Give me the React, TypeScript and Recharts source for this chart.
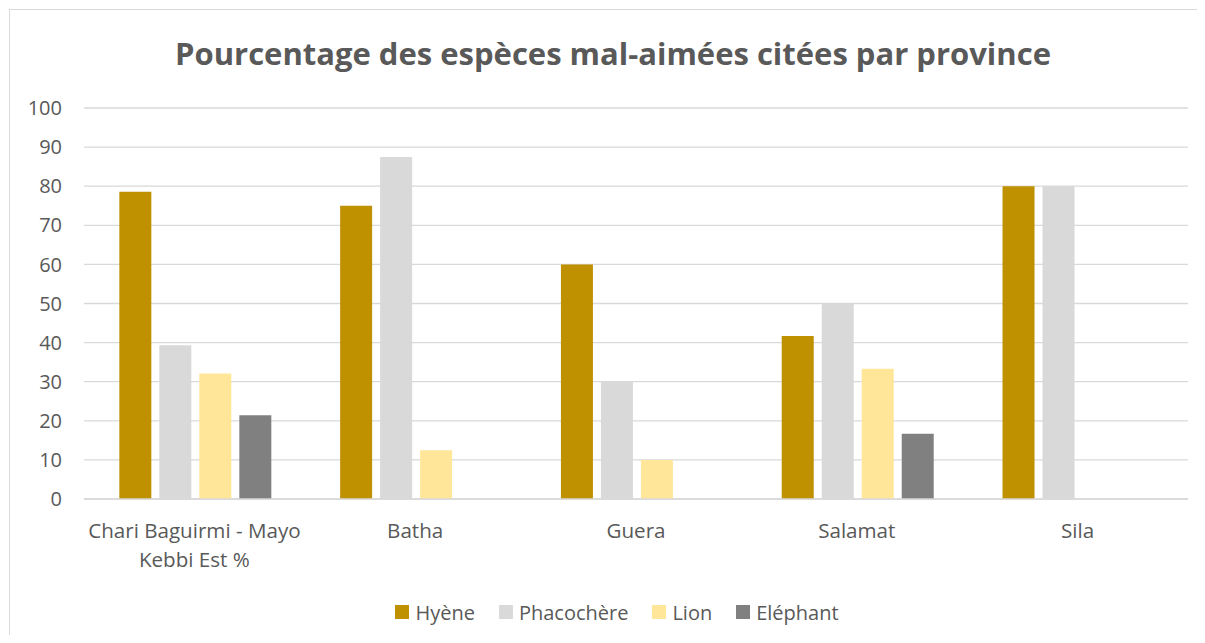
import { BarChart, Bar, XAxis, YAxis, CartesianGrid, Legend } from 'recharts'

const provinces = ['Chari Baguirmi - Mayo Kebbi Est %', 'Batha', 'Guera', 'Salamat', 'Sila']
const hyene = [78.6, 75, 60, 41.7, 80]
const phacochere = [39.3, 87.5, 30, 50, 80]
const lion = [32.1, 12.5, 10, 33.3, 0]
const elephant = [21.4, 0, 0, 16.7, 0]
const yTicks = [0, 10, 20, 30, 40, 50, 60, 70, 80, 90, 100]

const series = [
  { key: 'hyene', name: 'Hyène', color: '#BF9000' },
  { key: 'phacochere', name: 'Phacochère', color: '#D9D9D9' },
  { key: 'lion', name: 'Lion', color: '#FFE699' },
  { key: 'elephant', name: 'Eléphant', color: '#808080' },
]

const data = provinces.map((p, i) => ({
  name: p,
  hyene: hyene[i],
  phacochere: phacochere[i],
  lion: lion[i],
  elephant: elephant[i],
}))

const font = '"Open Sans", Lato, sans-serif'
const textColor = '#595959'

function wrap(label: string, max = 22) {
  const words = label.split(' ')
  const lines: string[] = []
  let cur = ''
  for (const w of words) {
    const next = cur ? cur + ' ' + w : w
    if (next.length > max && cur) {
      lines.push(cur)
      cur = w
    } else cur = next
  }
  if (cur) lines.push(cur)
  return lines
}

function XTick({ x, y, payload }: any) {
  const lines = wrap(payload.value)
  return (
    <text x={x} y={y} textAnchor="middle" fill={textColor} fontSize={20.6} fontFamily={font}>
      {lines.map((l, i) => (
        <tspan key={i} x={x} dy={i === 0 ? 37 : 29}>{l}</tspan>
      ))}
    </text>
  )
}

function LegendBox() {
  return (
    <div style={{ display: 'flex', justifyContent: 'center', height: 26, alignItems: 'center', paddingLeft: 45, fontFamily: font, fontSize: 20, color: textColor }}>
      {series.map(s => (
        <div key={s.key} style={{ display: 'flex', alignItems: 'center', marginRight: 24 }}>
          <span style={{ width: 14, height: 14, background: s.color, display: 'inline-block', marginRight: 6 }} />
          <span>{s.name}</span>
        </div>
      ))}
    </div>
  )
}

export default function App() {
  return (
    <div style={{ position: 'relative', width: 1197, height: 627, overflow: 'hidden', background: '#fff' }}>
      <div style={{ position: 'absolute', left: 1, top: 1, width: 1300, height: 700, borderTop: '1px solid #d9d9d9', borderLeft: '1px solid #d9d9d9' }} />
      <div style={{ position: 'absolute', top: 27, left: 0, width: 1210, textAlign: 'center', fontFamily: font, fontWeight: 700, fontSize: 31, color: textColor, lineHeight: '36px' }}>
        Pourcentage des espèces mal-aimées citées par province
      </div>
      <div style={{ position: 'absolute', left: 0, top: 0 }}>
        <BarChart width={1197} height={627} data={data} margin={{ top: 100, right: 17, left: 0, bottom: 10 }}
          barCategoryGap="16%" barGap={8}>
          <CartesianGrid vertical={false} stroke="#d9d9d9" strokeWidth={1.3} />
          <XAxis dataKey="name" axisLine={{ stroke: '#d9d9d9', strokeWidth: 1.3 }} tickLine={false} tickSize={0}
            interval={0} height={100} tick={<XTick />} />
          <YAxis domain={[0, 100]} ticks={yTicks} axisLine={false} tickLine={false} tickSize={0} tickMargin={22} width={76}
            tick={{ fill: textColor, fontSize: 20, fontFamily: font }} />
          <Legend verticalAlign="bottom" content={<LegendBox />} wrapperStyle={{ left: 0, width: 1197 }} />
          {series.map(s => (
            <Bar key={s.key} dataKey={s.key} name={s.name} fill={s.color} isAnimationActive={false} />
          ))}
        </BarChart>
      </div>
    </div>
  )
}
